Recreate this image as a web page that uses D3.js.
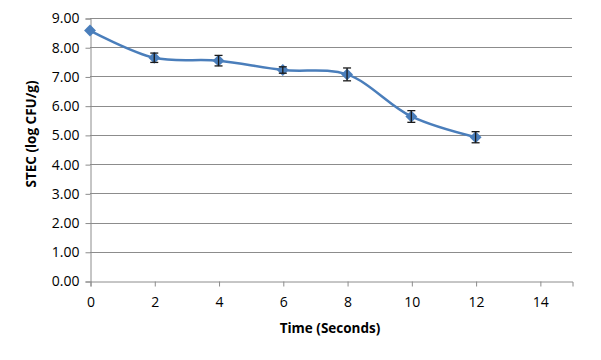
<!DOCTYPE html>
<html>
<head>
<meta charset="utf-8">
<script src="https://cdn.jsdelivr.net/npm/d3@7"></script>
<style>
  body { margin: 0; background: #fff; }
  svg text { font-family: "Open Sans", "Noto Sans", sans-serif; }
</style>
</head>
<body>
<div id="chart"></div>
<script>
// data
var times = [0, 2, 4, 6, 8, 10, 12];
var stec = [8.57, 7.64, 7.54, 7.22, 7.07, 5.63, 4.92];
var stecErr = [0, 0.16, 0.18, 0.11, 0.22, 0.20, 0.19];
var xTicks = [0, 2, 4, 6, 8, 10, 12, 14];
var yTicks = [0, 1, 2, 3, 4, 5, 6, 7, 8, 9];

var width = 601, height = 360;
var margin = {left: 90, right: 29, top: 18, bottom: 79};

var svg = d3.select("#chart")
    .append("svg")
    .attr("width", width)
    .attr("height", height);

var xScale = d3.scaleLinear()
    .domain([0, 15])
    .range([margin.left, width - margin.right]);

var yScale = d3.scaleLinear()
    .domain([0, 9])
    .range([height - margin.bottom, margin.top]);

// horizontal grid lines
svg.append("g")
    .selectAll("line")
    .data(yTicks.slice(1))
    .enter().append("line")
    .attr("x1", xScale(0))
    .attr("x2", xScale(15))
    .attr("y1", function(d) { return Math.round(yScale(d)) + 0.5; })
    .attr("y2", function(d) { return Math.round(yScale(d)) + 0.5; })
    .attr("stroke", "#8c8c8c")
    .attr("stroke-width", 1);

var yAxis = d3.axisLeft(yScale)
    .tickValues(yTicks)
    .tickSize(5)
    .tickPadding(6)
    .tickFormat(d3.format(".2f"));

var gy = svg.append("g")
    .attr("transform", "translate(" + (margin.left + 0.5) + ",0.5)")
    .call(yAxis);

var xAxis = d3.axisBottom(xScale)
    .tickValues(xTicks)
    .tickSize(5)
    .tickPadding(11)
    .tickFormat(d3.format("d"));

var gx = svg.append("g")
    .attr("transform", "translate(0.5," + (Math.round(yScale(0)) + 0.5) + ")")
    .call(xAxis);

[gx, gy].forEach(function(g) {
    g.select(".domain").attr("stroke", "#8c8c8c");
    g.selectAll(".tick line").attr("stroke", "#8c8c8c");
    g.selectAll(".tick text")
        .attr("fill", "#000")
        .style("font-size", "14px");
});

// axis titles
svg.append("text")
    .attr("text-anchor", "middle")
    .attr("transform", "translate(36," + 134 + ")rotate(-90)")
    .style("font-size", "13.5px")
    .style("font-weight", "bold")
    .text("STEC (log CFU/g)");

svg.append("text")
    .attr("text-anchor", "middle")
    .attr("x", 330)
    .attr("y", 333)
    .style("font-size", "13.5px")
    .style("font-weight", "bold")
    .text("Time (Seconds)");

var points = times.map(function(t, i) {
    return {x: t, y: stec[i], e: stecErr[i]};
});

var line = d3.line()
    .x(function(d) { return xScale(d.x); })
    .y(function(d) { return yScale(d.y); })
    .curve(d3.curveCatmullRom.alpha(0.5));

svg.append("path")
    .datum(points)
    .attr("d", line)
    .attr("fill", "none")
    .attr("stroke", "#4a7ebb")
    .attr("stroke-width", 2.5);

// markers
svg.append("g")
    .selectAll("path")
    .data(points)
    .enter().append("path")
    .attr("d", d3.symbol().type(d3.symbolDiamond2).size(90))
    .attr("transform", function(d) {
        return "translate(" + xScale(d.x) + "," + yScale(d.y) + ")";
    })
    .attr("fill", "#4a7ebb");

// error bars
var bars = svg.append("g")
    .selectAll("g")
    .data(points.filter(function(d) { return d.e > 0; }))
    .enter().append("g")
    .attr("stroke", "#1a1a1a")
    .attr("stroke-width", 1.3);

bars.append("line")
    .attr("x1", function(d) { return xScale(d.x); })
    .attr("x2", function(d) { return xScale(d.x); })
    .attr("y1", function(d) { return yScale(d.y + d.e); })
    .attr("y2", function(d) { return yScale(d.y - d.e); });

bars.append("line")
    .attr("x1", function(d) { return xScale(d.x) - 4; })
    .attr("x2", function(d) { return xScale(d.x) + 4; })
    .attr("y1", function(d) { return yScale(d.y + d.e); })
    .attr("y2", function(d) { return yScale(d.y + d.e); });

bars.append("line")
    .attr("x1", function(d) { return xScale(d.x) - 4; })
    .attr("x2", function(d) { return xScale(d.x) + 4; })
    .attr("y1", function(d) { return yScale(d.y - d.e); })
    .attr("y2", function(d) { return yScale(d.y - d.e); });
</script>
</body>
</html>
